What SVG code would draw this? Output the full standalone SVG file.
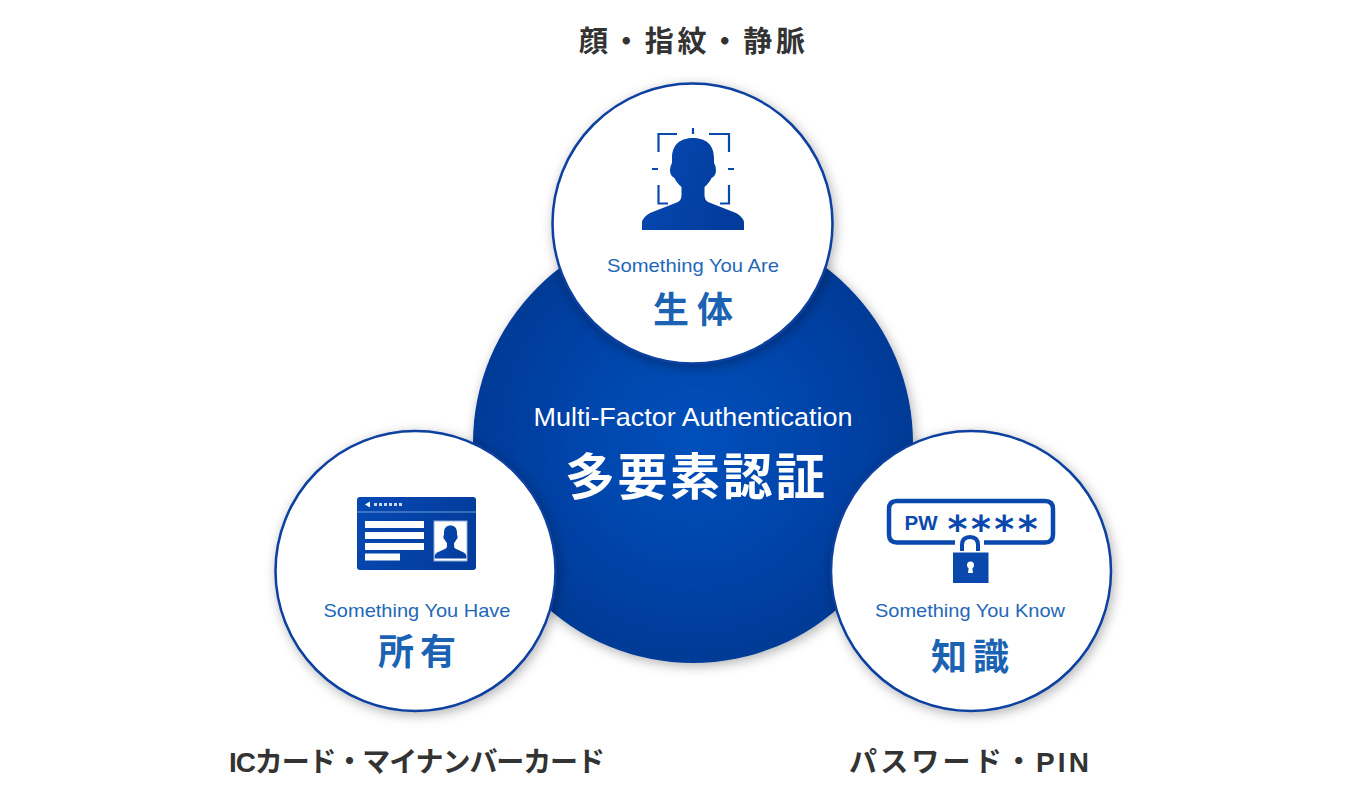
<svg xmlns="http://www.w3.org/2000/svg" width="1362" height="803" viewBox="0 0 1362 803">
<defs>
<radialGradient id="mainG" cx="693" cy="440" r="222" gradientUnits="userSpaceOnUse">
<stop offset="0" stop-color="#0650bb"/><stop offset="0.55" stop-color="#0444aa"/><stop offset="1" stop-color="#023a96"/>
</radialGradient>
<linearGradient id="iconG" x1="0" y1="0" x2="1" y2="0.3">
<stop offset="0" stop-color="#0649b4"/><stop offset="1" stop-color="#033c9c"/>
</linearGradient>
<filter id="sh" x="-15%" y="-15%" width="130%" height="130%">
<feDropShadow dx="2" dy="3" stdDeviation="6" flood-color="#000" flood-opacity="0.3"/>
</filter>
<g id="bust">
<path d="M-51 46 L-51 38 Q-50 33 -43 29 L-15 18 Q-11.500 16 -11.500 11 L-11.500 3 Q-17 -2 -18.500 -6 Q-23 -8 -23 -14 Q-23 -18 -21 -21 L-21 -26 C-21 -40 -12 -46 0 -46 C12 -46 21 -40 21 -26 L21 -21 Q23 -18 23 -14 Q23 -8 18.500 -6 Q17 -2 11.500 3 L11.500 11 Q11.500 16 15 18 L43 29 Q50 33 51 38 L51 46 Z"/>
</g>
</defs>
<style>
.circle{fill:#fff;stroke:#0a3f9f;stroke-width:2.500;filter:url(#sh)}
.en{font-family:"Liberation Sans",Arial,sans-serif;font-size:19px;fill:#1f68b8;text-anchor:middle}
.ja{font-family:"Noto Sans CJK JP",sans-serif;font-size:36px;font-weight:700;fill:#1b63b2;text-anchor:middle}
.cap{font-family:"Noto Sans CJK JP",sans-serif;font-size:29px;font-weight:700;fill:#333;text-anchor:middle}
.capl{font-family:"Liberation Sans","Noto Sans CJK JP",sans-serif;font-size:28px;font-weight:700;fill:#333;text-anchor:middle}
.ic{fill:url(#iconG)}
.fr{fill:none;stroke:#0a48ae;stroke-width:2.200}
</style>
<rect width="1362" height="803" fill="#fff"/>
<g id="connectors"></g>
<g id="node-main">
<circle cx="693" cy="443" r="220" fill="url(#mainG)" filter="url(#sh)"/>
<text x="693" y="426" font-family="'Liberation Sans',Arial,sans-serif" font-size="25" fill="#fff" text-anchor="middle" textLength="319" lengthAdjust="spacingAndGlyphs">Multi-Factor Authentication</text>
<text x="695" y="495" font-family="'Noto Sans CJK JP',sans-serif" font-size="50" font-weight="700" fill="#fff" text-anchor="middle" textLength="260">多要素認証</text>
</g>
<g id="node-biometric">
<circle class="circle" cx="692.5" cy="223.5" r="140"/>
<use href="#bust" x="693" y="184" class="ic"/>
<path class="fr" d="M677 134H658.500V152M709 134H729V152M658.500 185V203.500H668M720 203.500H729V185M693 128V134M652 169H658M728 169H734"/>
<text class="en" x="693" y="272" textLength="172" lengthAdjust="spacingAndGlyphs">Something You Are</text>
<text class="ja" x="693" y="323" textLength="80">生体</text>
<text class="cap" x="692" y="52" textLength="226">顔・指紋・静脈</text>
</g>
<g id="node-possession">
<circle class="circle" cx="415.5" cy="571" r="140"/>
<rect class="ic" x="357" y="497" width="119" height="73" rx="3"/>
<rect x="357" y="511.500" width="119" height="1" fill="#6f9bd8"/>
<path d="M365 504.500L370 501.500V507.500Z" fill="#fff"/>
<path d="M374 503h3v3h-3zM379 503h3v3h-3zM384 503h3v3h-3zM389 503h3v3h-3zM394 503h3v3h-3zM399 503h3v3h-3z" fill="#c8d8f2"/>
<g fill="#fff"><rect x="365" y="521" width="59" height="7"/><rect x="365" y="532" width="59" height="7"/><rect x="365" y="543" width="59" height="7"/><rect x="365" y="553.500" width="35" height="7"/></g>
<rect x="434" y="521" width="33" height="40" fill="#fff" stroke="#8cabdc" stroke-width="1"/>
<use href="#bust" transform="translate(450.500,542) scale(0.31,0.36)" class="ic"/>
<text class="en" x="417" y="617" textLength="187" lengthAdjust="spacingAndGlyphs">Something You Have</text>
<text class="ja" x="417" y="665" textLength="78">所有</text>
<text class="capl" x="417" y="772" textLength="376">ICカード・マイナンバーカード</text>
</g>
<g id="node-knowledge">
<circle class="circle" cx="971" cy="571" r="140"/>
<path d="M955 542.500H897Q889 542.500 889 534.500V509Q889 501 897 501H1045Q1053 501 1053 509V534.500Q1053 542.500 1045 542.500H984" fill="none" stroke="#0a48ae" stroke-width="4.500"/>
<text x="921" y="530" font-family="'Liberation Sans',Arial,sans-serif" font-size="20" font-weight="700" fill="#0a48ae" text-anchor="middle" textLength="33" lengthAdjust="spacingAndGlyphs">PW</text>
<text x="992.500" y="542" font-family="'DejaVu Sans',sans-serif" font-size="38" font-weight="700" fill="#0a48ae" text-anchor="middle" textLength="90">****</text>
<path d="M962 551V545Q962 537 970 537Q978 537 978 545V551" fill="none" stroke="#0a48ae" stroke-width="4"/>
<rect x="953" y="552.500" width="35.500" height="30.500" fill="#0a48ae"/>
<circle cx="970.500" cy="565" r="3.500" fill="#fff"/>
<path d="M969 566H972L973 573H968Z" fill="#fff"/>
<text class="en" x="970" y="617" textLength="190" lengthAdjust="spacingAndGlyphs">Something You Know</text>
<text class="ja" x="970" y="670" textLength="78">知識</text>
<text class="capl" x="969" y="772" textLength="240">パスワード・PIN</text>
</g>
</svg>
